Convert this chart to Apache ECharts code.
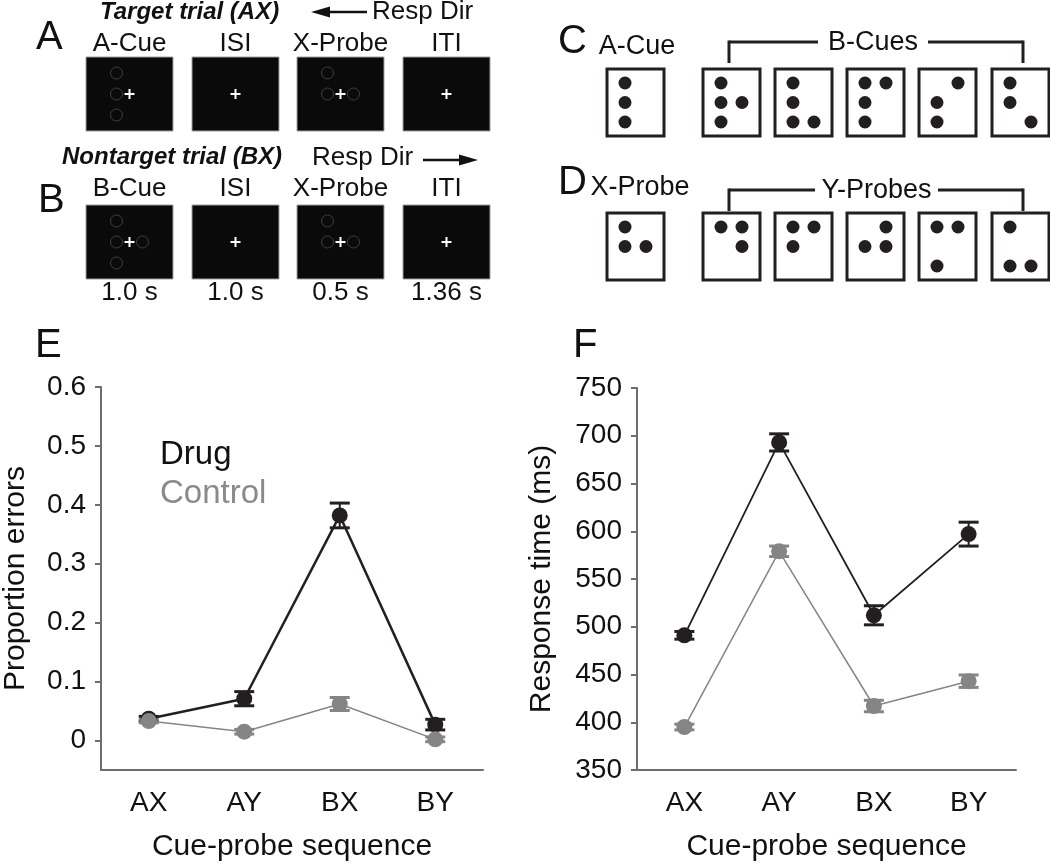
<!DOCTYPE html>
<html>
<head>
<meta charset="utf-8">
<script src="https://cdn.jsdelivr.net/npm/echarts@6/dist/echarts.min.js"></script>
<style>
  html, body { margin: 0; padding: 0; background: #fff; }
  #chart { width: 1050px; height: 864px; }
</style>
</head>
<body>
<div id="chart"></div>
<script>
const FONT = "'Liberation Sans', Arial, Helvetica, sans-serif";
const INK = '#231f20';
const GRAY = '#858585';
const AXIS = '#6d6e71';

// --- data (E: proportion errors, F: response time) ---
const sequences = ['AX', 'AY', 'BX', 'BY'];
const errDrug = [0.037, 0.071, 0.382, 0.027];
const errDrugSem = [0.004, 0.012, 0.021, 0.009];
const errControl = [0.033, 0.015, 0.062, 0.002];
const errControlSem = [0.003, 0.004, 0.011, 0.004];
const errTicks = [0, 0.1, 0.2, 0.3, 0.4, 0.5, 0.6];
const rtDrug = [491, 693, 512, 597];
const rtDrugSem = [4, 9, 10, 12.5];
const rtControl = [395, 579, 417, 443];
const rtControlSem = [3, 5.5, 6, 6.5];

// --- schematic panels A/B ---
const stagesA = ['A-Cue', 'ISI', 'X-Probe', 'ITI'];
const stagesB = ['B-Cue', 'ISI', 'X-Probe', 'ITI'];
const durations = ['1.0 s', '1.0 s', '0.5 s', '1.36 s'];
// outline circles around the fixation cross, [col, row]
const screenDotsA = [[[-1, -1], [-1, 0], [-1, 1]], [], [[-1, -1], [-1, 0], [1, 0]], []];
const screenDotsB = [[[-1, -1], [-1, 0], [-1, 1], [1, 0]], [], [[-1, -1], [-1, 0], [1, 0]], []];

// --- schematic panels C/D, dots as [col, row] ---
const cueDice = [
  [[0, 0], [0, 1], [0, 2]],
  [[0, 0], [0, 1], [1, 1], [0, 2]],
  [[0, 0], [0, 1], [0, 2], [1, 2]],
  [[0, 0], [1, 0], [0, 1], [0, 2]],
  [[1, 0], [0, 1], [0, 2]],
  [[0, 0], [0, 1], [1, 2]]
];
const probeDice = [
  [[0, 0], [0, 1], [1, 1]],
  [[0, 0], [1, 0], [1, 1]],
  [[0, 0], [1, 0], [0, 1]],
  [[1, 0], [0, 1], [1, 1]],
  [[0, 0], [1, 0], [0, 2]],
  [[0, 0], [0, 2], [1, 2]]
];

function txt(s, x, y, size, extra) {
  const style = Object.assign({
    text: s, x: x, y: y, fontSize: size, fontFamily: FONT, fill: '#111',
    align: 'center', verticalAlign: 'middle', textAlign: 'center', textVerticalAlign: 'middle'
  }, extra || {});
  return { type: 'text', style: style };
}
function seg(x1, y1, x2, y2, color, w) {
  return { type: 'line', shape: { x1: x1, y1: y1, x2: x2, y2: y2 }, style: { stroke: color, lineWidth: w } };
}

const graphics = [];
// panel letters
[['A', 36, 38], ['B', 38, 201], ['C', 558, 42], ['D', 558, 183], ['E', 35, 346], ['F', 573, 346]]
  .forEach(p => graphics.push(txt(p[0], p[1], p[2], 40, { align: 'left', textAlign: 'left' })));

// A / B trial screens
const scrX = [86, 192, 297, 403];
const SCR_W = 87, SCR_H = 74;
function screenRow(top, labels, labelY, dots) {
  scrX.forEach((left, i) => {
    const cx = left + SCR_W / 2, cy = top + SCR_H / 2;
    graphics.push({ type: 'rect', shape: { x: left, y: top, width: SCR_W, height: SCR_H },
      style: { fill: '#0a0a0a', stroke: '#a0a0a0', lineWidth: 1 } });
    dots[i].forEach(d => graphics.push({ type: 'circle',
      shape: { cx: cx + d[0] * 13, cy: cy + d[1] * 21, r: 6 },
      style: { fill: 'none', stroke: '#3f3f3f', lineWidth: 1 } }));
    graphics.push(seg(cx - 5, cy, cx + 5, cy, '#fff', 2));
    graphics.push(seg(cx, cy - 5, cx, cy + 5, '#fff', 2));
    graphics.push(txt(labels[i], cx, labelY, 26));
  });
}
screenRow(57, stagesA, 44, screenDotsA);
screenRow(205, stagesB, 189, screenDotsB);
durations.forEach((d, i) => graphics.push(txt(d, scrX[i] + SCR_W / 2, 293, 26)));

// trial titles and response direction arrows
graphics.push(txt('Target trial (AX)', 100, 12, 24,
  { align: 'left', textAlign: 'left', fontWeight: 'bold', fontStyle: 'italic' }));
graphics.push(seg(326, 12, 367, 12, '#111', 2.5));
graphics.push({ type: 'polygon', shape: { points: [[311, 12], [330, 6.5], [330, 17.5]] }, style: { fill: '#111' } });
graphics.push(txt('Resp Dir', 372, 12, 26, { align: 'left', textAlign: 'left' }));

graphics.push(txt('Nontarget trial (BX)', 62, 157, 24,
  { align: 'left', textAlign: 'left', fontWeight: 'bold', fontStyle: 'italic' }));
graphics.push(txt('Resp Dir', 312, 158, 26, { align: 'left', textAlign: 'left' }));
graphics.push(seg(423, 160, 462, 160, '#111', 2.5));
graphics.push({ type: 'polygon', shape: { points: [[478, 160], [459, 154.5], [459, 165.5]] }, style: { fill: '#111' } });

// C / D dice cards
const diceX = [607, 703, 775, 847, 919, 992];
const DIE_W = 57, DIE_H = 67;
function diceRow(top, patterns) {
  diceX.forEach((left, i) => {
    graphics.push({ type: 'rect', shape: { x: left, y: top, width: DIE_W, height: DIE_H },
      style: { fill: '#fff', stroke: INK, lineWidth: 3 } });
    patterns[i].forEach(d => graphics.push({ type: 'circle',
      shape: { cx: left + 18 + d[0] * 21, cy: top + 14 + d[1] * 19.5, r: 6.5 },
      style: { fill: INK } }));
  });
}
function bracket(y, label, gapL, gapR) {
  graphics.push(seg(729, y, gapL, y, INK, 3));
  graphics.push(seg(gapR, y, 1023, y, INK, 3));
  graphics.push(seg(729, y - 1.5, 729, y + 21, INK, 3));
  graphics.push(seg(1023, y - 1.5, 1023, y + 21, INK, 3));
  graphics.push(txt(label, (gapL + gapR) / 2, y + 1, 27));
}
diceRow(69, cueDice);
diceRow(213, probeDice);
graphics.push(txt('A-Cue', 637, 47, 27));
graphics.push(txt('X-Probe', 640, 188, 27));
bracket(42, 'B-Cues', 818, 928);
bracket(190, 'Y-Probes', 815, 938);

// --- error bars ---
function renderErr(color) {
  return function (params, api) {
    const lo = api.coord([api.value(0), api.value(1)]);
    const hi = api.coord([api.value(0), api.value(2)]);
    const w = 10;
    return {
      type: 'group',
      children: [
        { type: 'line', shape: { x1: lo[0], y1: lo[1], x2: hi[0], y2: hi[1] }, style: { stroke: color, lineWidth: 2 } },
        { type: 'line', shape: { x1: lo[0] - w, y1: lo[1], x2: lo[0] + w, y2: lo[1] }, style: { stroke: color, lineWidth: 3 } },
        { type: 'line', shape: { x1: hi[0] - w, y1: hi[1], x2: hi[0] + w, y2: hi[1] }, style: { stroke: color, lineWidth: 3 } }
      ]
    };
  };
}
function errData(mean, sem) {
  return mean.map((m, i) => [i, m - sem[i], m + sem[i]]);
}
function errSeries(name, mean, sem, color, idx) {
  return {
    name: name, type: 'custom', xAxisIndex: idx, yAxisIndex: idx,
    renderItem: renderErr(color), data: errData(mean, sem),
    encode: { x: 0, y: [1, 2] }, clip: false, silent: true
  };
}
function lineSeries(name, data, color, width, idx) {
  return {
    name: name, type: 'line', xAxisIndex: idx, yAxisIndex: idx, data: data,
    symbol: 'circle', symbolSize: 16, clip: false,
    itemStyle: { color: color }, lineStyle: { color: color, width: width }
  };
}

function catAxis(idx) {
  return {
    type: 'category', gridIndex: idx, data: sequences,
    name: 'Cue-probe sequence', nameLocation: 'middle', nameGap: 62,
    nameTextStyle: { fontSize: 30, fontFamily: FONT, color: '#111' },
    axisLine: { onZero: false, lineStyle: { color: AXIS, width: 2 } },
    axisTick: { alignWithLabel: true, length: 7, lineStyle: { color: AXIS, width: 2 } },
    axisLabel: { fontSize: 28, fontFamily: FONT, color: '#111', margin: 19 }
  };
}
function valAxis(idx, name, gap) {
  return {
    type: 'value', gridIndex: idx, name: name, nameLocation: 'middle', nameGap: gap,
    nameTextStyle: { fontSize: 30, fontFamily: FONT, color: '#111' },
    axisLine: { show: true, lineStyle: { color: AXIS, width: 2 } },
    axisTick: { show: true, length: 6, lineStyle: { color: AXIS, width: 2 } },
    axisLabel: { fontSize: 28, fontFamily: FONT, color: '#111', margin: 15 },
    splitLine: { show: false }
  };
}

const yE = valAxis(0, 'Proportion errors', 70);
yE.min = -0.05; yE.max = 0.6;
yE.axisLabel.customValues = errTicks;
yE.axisTick.customValues = errTicks;
const yF = valAxis(1, 'Response time (ms)', 80);
yF.min = 350; yF.max = 750; yF.interval = 50;

const option = {
  animation: false,
  backgroundColor: '#fff',
  textStyle: { fontFamily: FONT },
  grid: [
    { left: 99, top: 387, width: 384, height: 383 },
    { left: 637, top: 388, width: 379, height: 382 }
  ],
  xAxis: [catAxis(0), catAxis(1)],
  yAxis: [yE, yF],
  legend: {
    left: 150, top: 433, orient: 'vertical', icon: 'none', itemWidth: 0, itemHeight: 0, itemGap: 6,
    selectedMode: false,
    textStyle: { fontSize: 33, fontFamily: FONT },
    data: [
      { name: 'Drug', textStyle: { color: '#111' } },
      { name: 'Control', textStyle: { color: '#8a8a8a' } }
    ]
  },
  graphic: { elements: graphics },
  series: [
    errSeries('Drug SEM', errDrug, errDrugSem, INK, 0),
    lineSeries('Drug', errDrug, INK, 2.5, 0),
    errSeries('Control SEM', errControl, errControlSem, GRAY, 0),
    lineSeries('Control', errControl, GRAY, 1.5, 0),
    errSeries('Drug SEM', rtDrug, rtDrugSem, INK, 1),
    lineSeries('Drug', rtDrug, INK, 1.8, 1),
    errSeries('Control SEM', rtControl, rtControlSem, GRAY, 1),
    lineSeries('Control', rtControl, GRAY, 1.5, 1)
  ]
};

const chart = echarts.init(document.getElementById('chart'), null, { renderer: 'canvas' });
chart.setOption(option);
</script>
</body>
</html>
